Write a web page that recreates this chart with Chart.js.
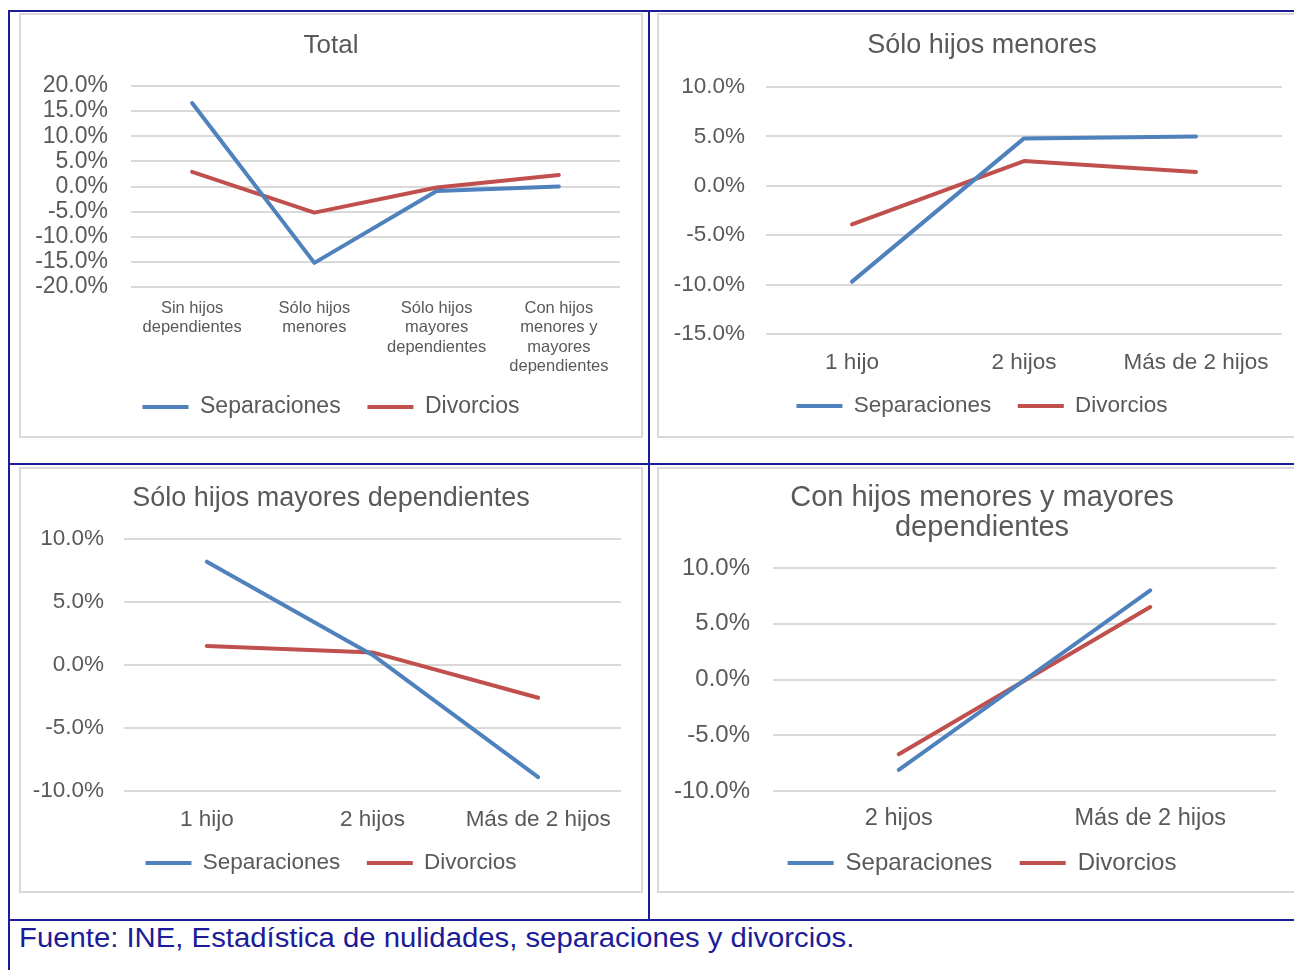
<!DOCTYPE html>
<html>
<head>
<meta charset="utf-8">
<script src="https://cdn.jsdelivr.net/npm/chart.js@4.4.0/dist/chart.umd.min.js"></script>
<style>
  body { margin: 0; background: #fff; width: 1294px; height: 970px; overflow: hidden; position: relative;
         font-family: "Liberation Sans", Arial, sans-serif; }
  .rule { position: absolute; background: #1c1c98; }
  .box { position: absolute; border: 2px solid #d9d9d9; box-sizing: border-box; background: #fff; }
  .box canvas { display: block; }
  #fuente { position: absolute; left: 19px; top: 923px; font-size: 27px; color: #1c1c98; white-space: nowrap;
            transform: scaleX(1.085); transform-origin: left top; }
</style>
</head>
<body>
<!-- table lines -->
<div class="rule" style="left:8px; top:10px; width:1290px; height:2px"></div>
<div class="rule" style="left:8px; top:463px; width:1290px; height:2px"></div>
<div class="rule" style="left:8px; top:919px; width:1290px; height:2px"></div>
<div class="rule" style="left:8px; top:10px; width:2px; height:960px"></div>
<div class="rule" style="left:648px; top:10px; width:2px; height:910px"></div>

<div class="box" style="left:19px; top:13px; width:624px; height:425px"><canvas id="c1" width="620" height="421"></canvas></div>
<div class="box" style="left:657px; top:13px; width:650px; height:425px"><canvas id="c2" width="646" height="421"></canvas></div>
<div class="box" style="left:19px; top:467px; width:624px; height:426px"><canvas id="c3" width="620" height="422"></canvas></div>
<div class="box" style="left:657px; top:467px; width:650px; height:426px"><canvas id="c4" width="646" height="422"></canvas></div>

<div id="fuente">Fuente: INE, Estadística de nulidades, separaciones y divorcios.</div>

<script>
// datos (variación, %)
const seriesNames = ['Separaciones', 'Divorcios'];

const totalCats = [['Sin hijos', 'dependientes'], ['Sólo hijos', 'menores'],
                   ['Sólo hijos', 'mayores', 'dependientes'], ['Con hijos', 'menores y', 'mayores', 'dependientes']];
const totalSep = [16.6, -15.2, -0.9, 0.0];
const totalDiv = [2.9, -5.2, -0.2, 2.3];

const menoresCats = ['1 hijo', '2 hijos', 'Más de 2 hijos'];
const menoresSep = [-9.7, 4.8, 5.0];
const menoresDiv = [-3.9, 2.5, 1.4];

const mayoresCats = ['1 hijo', '2 hijos', 'Más de 2 hijos'];
const mayoresSep = [8.2, 0.8, -8.9];
const mayoresDiv = [1.5, 1.0, -2.6];

const ambosCats = ['2 hijos', 'Más de 2 hijos'];
const ambosSep = [-8.1, 8.0];
const ambosDiv = [-6.7, 6.5];

const BLUE = '#4f81bd';
const RED = '#c0504d';
const GREY_TEXT = '#595959';
const FONT = '"Liberation Sans", Arial, sans-serif';

function drawPanel(id, title, cats, sep, div, yMin, yMax, lay) {
  const canvas = document.getElementById(id);
  const H = canvas.height;
  const legendPad = 14;
  const pb = H - lay.legendY - lay.legendFont / 2 - 10;
  const legendTop = H - pb - (lay.legendFont + legendPad + 10);
  const xHeight = legendTop - lay.bottom;
  const lines = Array.isArray(title) ? title.length : 1;
  const tTop = lay.titleY - lay.titleLH / 2;
  const tBottom = lay.top - tTop - lines * lay.titleLH;

  return new Chart(canvas, {
    type: 'line',
    data: {
      labels: cats,
      datasets: [
        { label: seriesNames[0], data: sep, borderColor: BLUE, backgroundColor: BLUE, pointBorderColor: BLUE },
        { label: seriesNames[1], data: div, borderColor: RED, backgroundColor: RED, pointBorderColor: RED }
      ]
    },
    options: {
      responsive: false,
      animation: false,
      layout: { padding: { left: 0, right: 0, top: 0, bottom: pb } },
      elements: {
        line: { borderWidth: 4, tension: 0, borderCapStyle: 'round', borderJoinStyle: 'round' },
        point: { radius: 0, hoverRadius: 0, borderWidth: 4 }
      },
      plugins: {
        title: {
          display: true, text: title, color: GREY_TEXT,
          font: { family: FONT, size: lay.titleFont, weight: 'normal', lineHeight: lay.titleLH + 'px' },
          padding: { top: tTop, bottom: tBottom }
        },
        legend: {
          position: 'bottom',
          labels: {
            usePointStyle: true, pointStyle: 'line', pointStyleWidth: 46,
            color: GREY_TEXT, padding: legendPad,
            font: { family: FONT, size: lay.legendFont },
            generateLabels: chart => {
              const items = Chart.defaults.plugins.legend.labels.generateLabels(chart);
              items.forEach((it, i) => { if (i < items.length - 1) it.text += '  '; });
              return items;
            }
          }
        },
        tooltip: { enabled: false }
      },
      scales: {
        x: {
          offset: true,
          grid: { display: false, drawTicks: false },
          border: { display: false },
          ticks: {
            color: GREY_TEXT, maxRotation: 0, autoSkip: false,
            padding: lay.xLabelY - lay.bottom - lay.xLH / 2,
            font: { family: FONT, size: lay.xFont, lineHeight: lay.xLH + 'px' }
          },
          afterFit: s => { s.height = xHeight; }
        },
        y: {
          min: yMin, max: yMax,
          grid: { color: '#d9d9d9', lineWidth: 2, drawTicks: false },
          border: { display: false },
          ticks: {
            stepSize: 5, autoSkip: false, color: GREY_TEXT, padding: lay.yPad,
            font: { family: FONT, size: lay.yFont },
            callback: v => v.toFixed(1) + '%'
          },
          afterFit: s => { s.width = lay.left; }
        },
        // empty right-hand axis: keeps a margin on the right so title and legend stay centred
        yr: {
          type: 'linear', position: 'right',
          grid: { display: false }, border: { display: false }, ticks: { display: false },
          afterFit: s => { s.width = lay.right; }
        }
      }
    }
  });
}

drawPanel('c1', 'Total', totalCats, totalSep, totalDiv, -20, 20, {
  left: 110, right: 21, top: 71, bottom: 272,
  titleY: 31, titleFont: 26, titleLH: 31,
  xLabelY: 293, xFont: 16.5, xLH: 19.5,
  yPad: 23, yFont: 23, legendY: 392, legendFont: 23
});

drawPanel('c2', 'Sólo hijos menores', menoresCats, menoresSep, menoresDiv, -15, 10, {
  left: 107, right: 23, top: 72, bottom: 319,
  titleY: 31, titleFont: 27, titleLH: 32,
  xLabelY: 348, xFont: 22.5, xLH: 26,
  yPad: 21, yFont: 22.5, legendY: 391, legendFont: 22.5
});

drawPanel('c3', 'Sólo hijos mayores dependientes', mayoresCats, mayoresSep, mayoresDiv, -10, 10, {
  left: 103, right: 20, top: 70, bottom: 322,
  titleY: 30, titleFont: 27, titleLH: 32,
  xLabelY: 351, xFont: 22.5, xLH: 26,
  yPad: 20, yFont: 22.5, legendY: 394, legendFont: 22.5
});

drawPanel('c4', ['Con hijos menores y mayores', 'dependientes'], ambosCats, ambosSep, ambosDiv, -10, 10, {
  left: 114, right: 29, top: 99, bottom: 322,
  titleY: 29, titleFont: 29, titleLH: 30,
  xLabelY: 350, xFont: 23.5, xLH: 28,
  yPad: 23, yFont: 24, legendY: 394, legendFont: 24
});
</script>
</body>
</html>
